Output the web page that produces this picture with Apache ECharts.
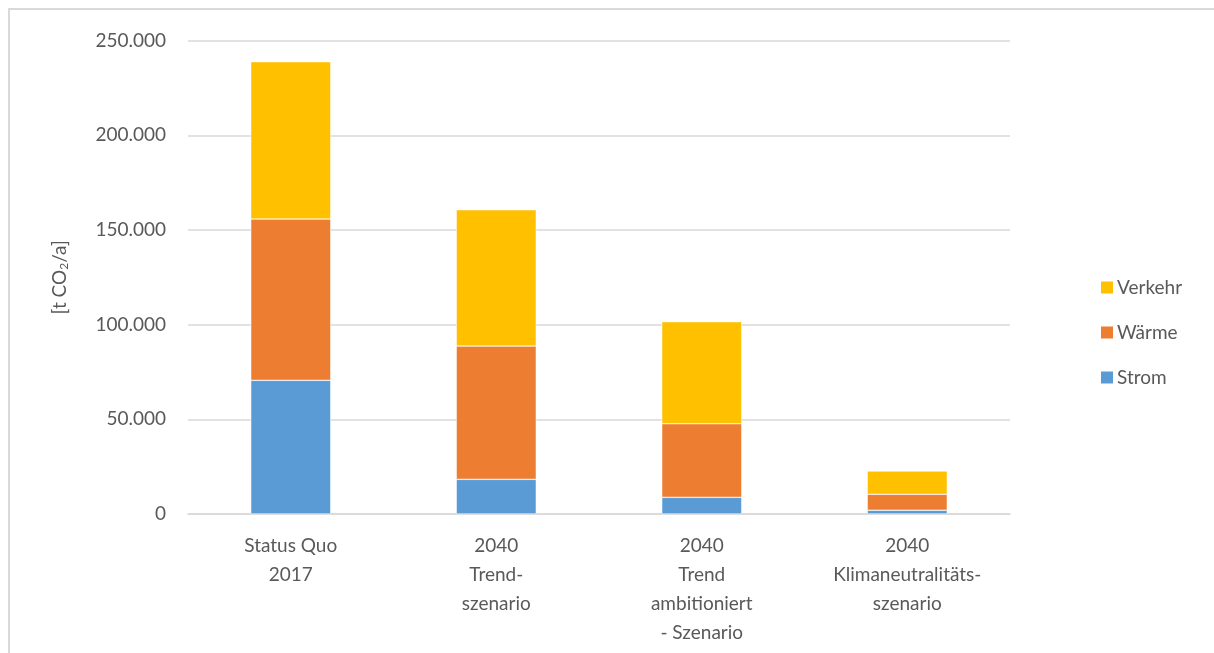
<!DOCTYPE html>
<html>
<head>
<meta charset="utf-8">
<script src="https://cdn.jsdelivr.net/npm/echarts@6/dist/echarts.min.js"></script>
<style>
html,body{margin:0;padding:0;background:#fff;}
#frame{position:absolute;left:8px;top:8px;width:1206px;height:645px;border-left:2px solid #d9d9d9;border-top:2px solid #d9d9d9;box-sizing:border-box;}
#c{position:absolute;left:0;top:0;width:1214px;height:653px;}
</style>
</head>
<body>
<div id="frame"></div>
<div id="c"></div>
<script>
const categories = ["Status Quo\n2017", "2040\nTrend-\nszenario", "2040\nTrend\nambitioniert\n- Szenario", "2040\nKlimaneutralitäts-\nszenario"];
const strom = [70600, 18300, 8800, 2000];
const waerme = [85200, 70400, 38900, 8400];
const verkehr = [83100, 72000, 53900, 12300];
const yTicks = [0, 50000, 100000, 150000, 200000, 250000];

const chart = echarts.init(document.getElementById('c'));
const font = 'Lato, "Open Sans", sans-serif';
function fmt(v){ return v === 0 ? '0' : (v/1000).toFixed(0) + '.000'; }
chart.setOption({
  backgroundColor: 'transparent',
  animation: false,
  grid: {left: 188, right: 204, top: 40.7, bottom: 139, containLabel: false},
  legend: {
    orient: 'vertical', left: 1094, top: 273, itemGap: 26,
    itemWidth: 14, itemHeight: 14, icon: 'rect',
    data: ['Verkehr', 'Wärme', 'Strom'],
    textStyle: {fontFamily: font, fontSize: 19, color: '#595959', padding: [0,0,0,-2]}
  },
  xAxis: {
    type: 'category', data: categories,
    axisLine: {lineStyle: {color: '#d9d9d9', width: 1.5}},
    axisTick: {show: false},
    axisLabel: {fontFamily: font, fontSize: 19, color: '#595959', lineHeight: 29, margin: 17, interval: 0}
  },
  yAxis: {
    type: 'value', min: 0, max: 250000, interval: 50000,
    name: '[t CO{sub|2}/a]', nameLocation: 'middle', nameRotate: 90, nameGap: 118,
    nameTextStyle: {fontFamily: font, fontSize: 19, color: '#595959',
      rich: {sub: {fontFamily: font, fontSize: 12, color: '#595959', verticalAlign: 'bottom', padding: [8,0,0,0]}}},
    axisLine: {show: false}, axisTick: {show: false},
    splitLine: {lineStyle: {color: '#d9d9d9', width: 1.5}},
    axisLabel: {fontFamily: font, fontSize: 19, color: '#595959', margin: 22,
      formatter: v => yTicks.includes(v) ? fmt(v) : ''}
  },
  series: [
    {name: 'Strom', type: 'bar', stack: 's', data: strom, barWidth: 80, itemStyle: {color: '#5b9bd5', borderColor: '#fff', borderWidth: 0.5}},
    {name: 'Wärme', type: 'bar', stack: 's', data: waerme, barWidth: 80, itemStyle: {color: '#ed7d31', borderColor: '#fff', borderWidth: 0.5}},
    {name: 'Verkehr', type: 'bar', stack: 's', data: verkehr, barWidth: 80, itemStyle: {color: '#ffc000', borderColor: '#fff', borderWidth: 0.5}}
  ]
});
</script>
</body>
</html>
